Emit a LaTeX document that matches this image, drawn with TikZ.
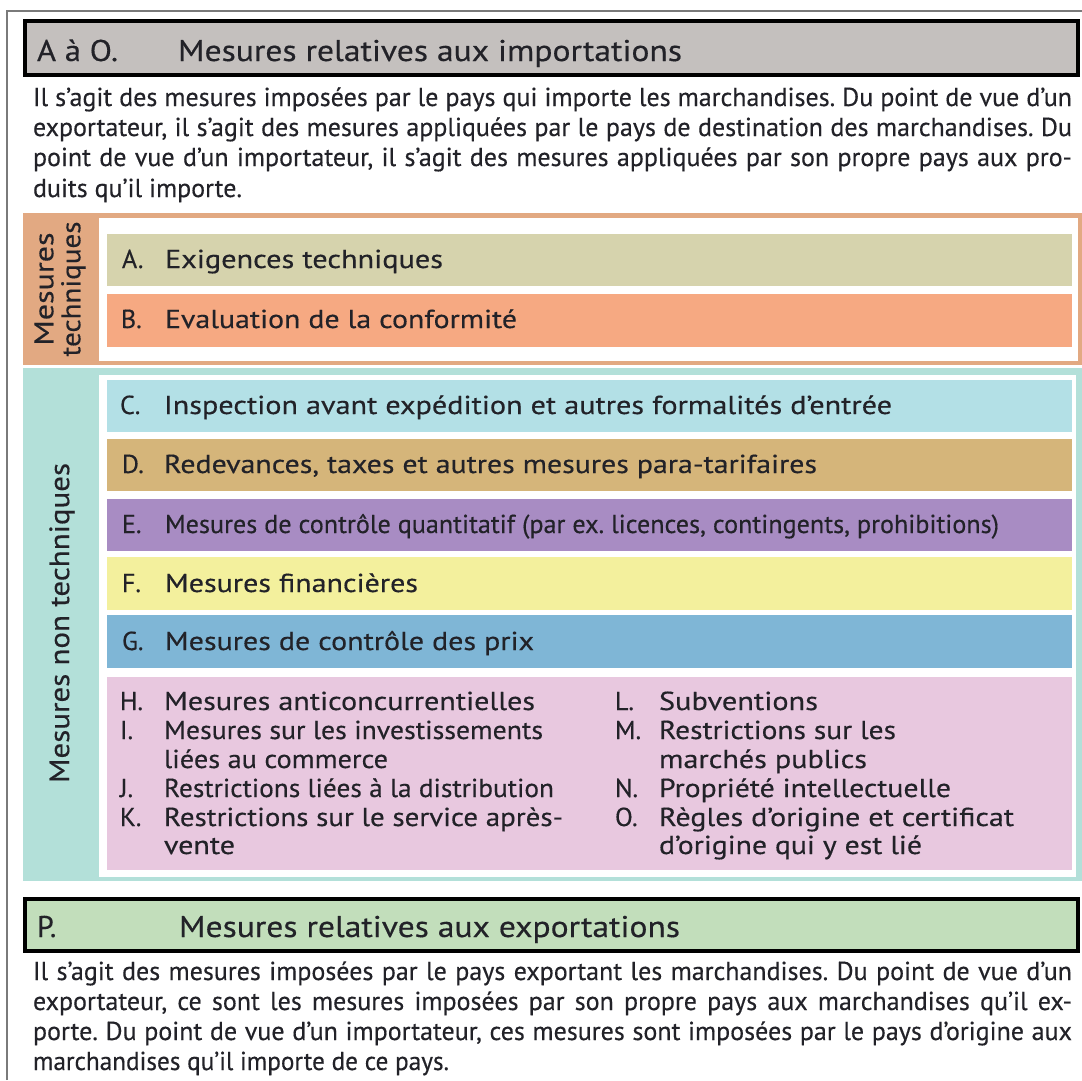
\documentclass[tikz,border=0pt]{standalone}
\usepackage{fontspec}
\setmainfont{PT Sans}[FakeBold=0.35]
\usepackage{graphicx}
\definecolor{ink}{HTML}{222228}
\definecolor{frame}{HTML}{7A7A7A}
\definecolor{hgray}{HTML}{C4C0BE}
\definecolor{hgreen}{HTML}{C2DEBB}
\definecolor{corange}{HTML}{E2A982}
\definecolor{cteal}{HTML}{B3E0D9}
\definecolor{colA}{HTML}{D6D3AD}
\definecolor{colB}{HTML}{F6A982}
\definecolor{colC}{HTML}{B3E0E6}
\definecolor{colD}{HTML}{D5B57A}
\definecolor{colE}{HTML}{A88CC3}
\definecolor{colF}{HTML}{F3F09D}
\definecolor{colG}{HTML}{7FB6D6}
\definecolor{colH}{HTML}{E8C8DF}
\newcommand{\fw}[2]{\resizebox{#1pt}{\height}{#2}}
\newcommand{\jl}[1]{\makebox[1039pt][s]{#1}}
\frenchspacing
\begin{document}
\begin{tikzpicture}[x=1pt,y=-1pt,
  every node/.style={inner sep=0pt, outer sep=0pt},
  box/.style={anchor=north west, draw=none},
  txt/.style={anchor=base west, text=ink},
  para/.style={txt, font=\fontsize{26}{28}\selectfont},
  bartxt/.style={txt, font=\fontsize{26}{28}\selectfont},
  head/.style={txt, font=\fontsize{30}{32}\selectfont},
  side/.style={rotate=90, text=ink, align=center}]
\useasboundingbox (0,0) rectangle (1082,1080);
\fill[white] (0,0) rectangle (1082,1080);
% outer frame
\coordinate (fb) at (7,1080);
\coordinate (ft) at (7,11);
\coordinate (fr) at (1082,11);
\draw[frame, line width=1.5pt] (fb) -- (ft) -- (fr);

% header imports
\node[box, fill=hgray, draw=black, line width=3.5pt, minimum width=1053pt, minimum height=54pt] (h1) at (25,21) {};
\node[head] (h1a) at (37,61) {\fw{81}{A à O.}};
\node[head] (h1b) at (178,61) {\fw{504}{Mesures relatives aux importations}};

% paragraph 1
\node[para] (p1a) at (33,106) {\jl{Il s’agit des mesures imposées par le pays qui importe les marchandises. Du point de vue d’un}};
\node[para] (p1b) at (33,136) {\jl{exportateur, il s’agit des mesures appliquées par le pays de destination des marchandises. Du}};
\node[para] (p1c) at (33,166) {\jl{point de vue d’un importateur, il s’agit des mesures appliquées par son propre pays aux pro-}};
\node[para] (p1d) at (33,197) {\fw{209}{duits qu’il importe.}};

% technical section
\node[box, fill=corange, minimum width=1059pt, minimum height=152pt] (tech) at (23,213) {};
\node[box, fill=white, minimum width=979pt, minimum height=143pt] (techin) at (99,218) {};
\node[side, font=\fontsize{27}{27}\selectfont] (techlab) at (60,289) {\fw{113}{Mesures}\\\fw{135}{techniques}};
\node[box, fill=colA, minimum width=965pt, minimum height=52pt] (barA) at (107,234) {};
\node[box, fill=colB, minimum width=965pt, minimum height=53pt] (barB) at (107,294) {};
\node[bartxt] (lA) at (122,268) {A.};
\node[bartxt] (tA) at (165,268) {\fw{278}{Exigences techniques}};
\node[bartxt] (lB) at (121,328) {B.};
\node[bartxt] (tB) at (165,328) {\fw{352}{Evaluation de la conformité}};

% non technical section
\node[box, fill=cteal, minimum width=1059pt, minimum height=513pt] (ntech) at (23,368) {};
\node[box, fill=white, minimum width=977pt, minimum height=502pt] (ntechin) at (99,375) {};
\node[side, font=\fontsize{28}{29}\selectfont] (ntechlab) at (62,623) {\fw{320}{Mesures non techniques}};
\node[box, fill=colC, minimum width=965pt, minimum height=52pt] (barC) at (107,380) {};
\node[box, fill=colD, minimum width=965pt, minimum height=52pt] (barD) at (107,439) {};
\node[box, fill=colE, minimum width=965pt, minimum height=52pt] (barE) at (107,499) {};
\node[box, fill=colF, minimum width=965pt, minimum height=53pt] (barF) at (107,557) {};
\node[box, fill=colG, minimum width=965pt, minimum height=53pt] (barG) at (107,615) {};
\node[box, fill=colH, minimum width=965pt, minimum height=193pt] (barH) at (107,677) {};
\node[bartxt] (lC) at (120,414) {C.};
\node[bartxt] (tC) at (164,414) {\fw{728}{Inspection avant expédition et autres formalités d’entrée}};
\node[bartxt] (lD) at (122,473) {D.};
\node[bartxt] (tD) at (164,473) {\fw{653}{Redevances, taxes et autres mesures para-tarifaires}};
\node[bartxt] (lE) at (122,533) {E.};
\node[bartxt] (tE) at (165,533) {\fw{834}{Mesures de contrôle quantitatif (par ex. licences, contingents, prohibitions)}};
\node[bartxt] (lF) at (122,592) {F.};
\node[bartxt] (tF) at (165,592) {\fw{253}{Mesures financières}};
\node[bartxt] (lG) at (122,650) {G.};
\node[bartxt] (tG) at (165,650) {\fw{369}{Mesures de contrôle des prix}};
% pink list
\node[bartxt] (lH) at (120,710) {H.};
\node[bartxt] (tH) at (164,710) {\fw{371}{Mesures anticoncurrentielles}};
\node[bartxt] (lI) at (120,739) {I.};
\node[bartxt] (tI) at (164,739) {\fw{379}{Mesures sur les investissements}};
\node[bartxt] (tI2) at (164,768) {\fw{224}{liées au commerce}};
\node[bartxt] (lJ) at (120,797) {J.};
\node[bartxt] (tJ) at (164,797) {\fw{390}{Restrictions liées à la distribution}};
\node[bartxt] (lK) at (120,826) {K.};
\node[bartxt] (tK) at (164,826) {\fw{399}{Restrictions sur le service après-}};
\node[bartxt] (tK2) at (164,854) {\fw{71}{vente}};
\node[bartxt] (lL) at (615,710) {L.};
\node[bartxt] (tL) at (659,710) {\fw{159}{Subventions}};
\node[bartxt] (lM) at (615,739) {M.};
\node[bartxt] (tM) at (659,739) {\fw{237}{Restrictions sur les}};
\node[bartxt] (tM2) at (659,768) {\fw{208}{marchés publics}};
\node[bartxt] (lN) at (615,797) {N.};
\node[bartxt] (tN) at (659,797) {\fw{292}{Propriété intellectuelle}};
\node[bartxt] (lO) at (615,826) {O.};
\node[bartxt] (tO) at (659,826) {\fw{355}{Règles d’origine et certificat}};
\node[bartxt] (tO2) at (659,854) {\fw{263}{d’origine qui y est lié}};

% header exports
\node[box, fill=hgreen, draw=black, line width=3.5pt, minimum width=1053pt, minimum height=52pt] (h2) at (25,899) {};
\node[head] (h2a) at (37,937) {P.};
\node[head] (h2b) at (179,937) {\fw{501}{Mesures relatives aux exportations}};

% paragraph 2
\node[para] (p2a) at (33,980) {\jl{Il s’agit des mesures imposées par le pays exportant les marchandises. Du point de vue d’un}};
\node[para] (p2b) at (33,1010) {\jl{exportateur, ce sont les mesures imposées par son propre pays aux marchandises qu’il ex-}};
\node[para] (p2c) at (33,1040) {\jl{porte. Du point de vue d’un importateur, ces mesures sont imposées par le pays d’origine aux}};
\node[para] (p2d) at (33,1070) {\fw{416}{marchandises qu’il importe de ce pays.}};
\end{tikzpicture}
\end{document}
